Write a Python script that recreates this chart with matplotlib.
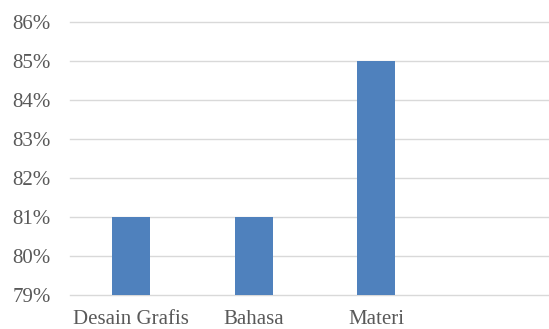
import matplotlib.pyplot as plt
import numpy as np

categories = ["Desain Grafis", "Bahasa", "Materi", ""]
values = [0.81, 0.81, 0.85, np.nan]
yticks = [0.79, 0.80, 0.81, 0.82, 0.83, 0.84, 0.85, 0.86]
ytick_labels = ["79%", "80%", "81%", "82%", "83%", "84%", "85%", "86%"]

plt.rcParams['font.family'] = ['Liberation Serif', 'DejaVu Serif']

W, H = 549, 329
fig = plt.figure(figsize=(W / 100, H / 100), dpi=100)
ax = fig.add_axes([70 / W, 1 - 295 / H, 490 / W, 273 / H])

x = np.arange(len(categories))
ax.bar(x, values, width=0.31, color="#4F81BD", bottom=0, zorder=3)

ax.set_xlim(-0.5, len(categories) - 0.5)
ax.set_ylim(0.79, 0.86)
ax.set_yticks(yticks)
ax.set_yticklabels(ytick_labels)
ax.set_xticks(x)
ax.set_xticklabels(categories)

ax.grid(axis="y", color="#d9d9d9", linewidth=1.0, zorder=0)
for gl in ax.yaxis.get_gridlines():
    gl.set_clip_on(False)
ax.set_axisbelow(True)
for s in ax.spines.values():
    s.set_visible(False)

ax.tick_params(axis="y", length=0, pad=14, labelsize=15, labelcolor="#595959")
ax.tick_params(axis="x", length=0, pad=11, labelsize=15, labelcolor="#595959")

fig.savefig("out.png", dpi=100)
